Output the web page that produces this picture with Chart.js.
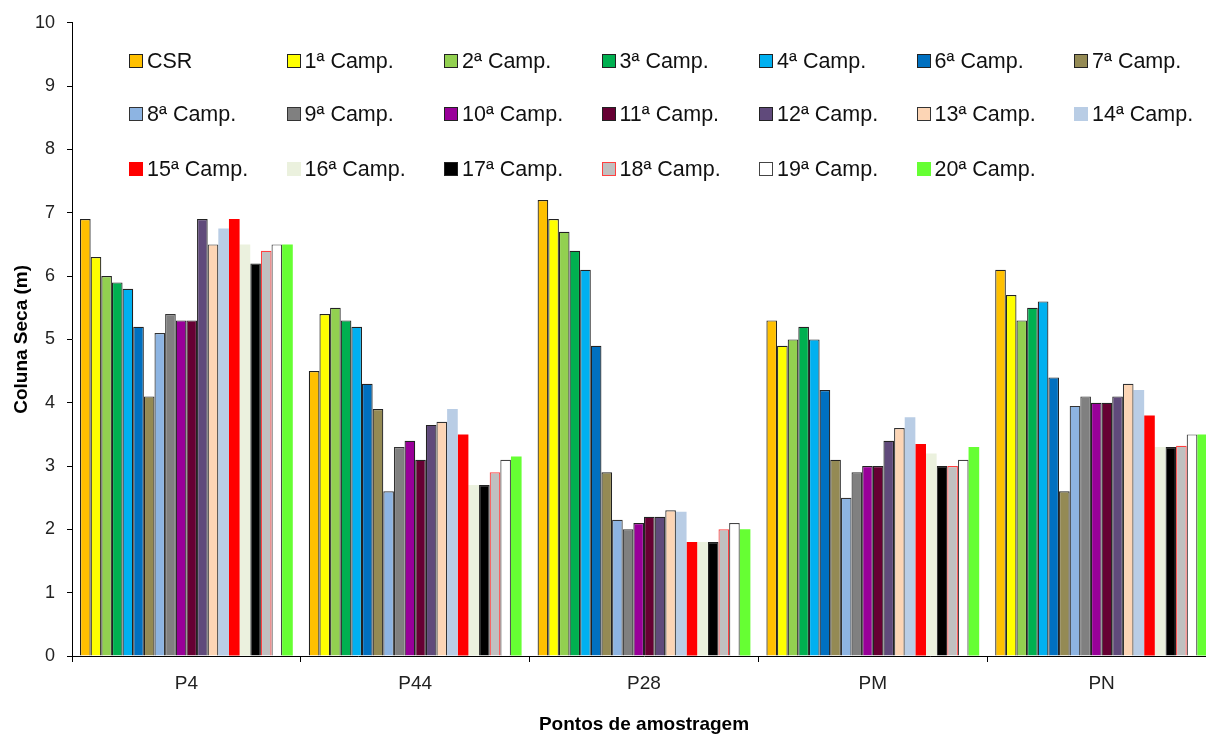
<!DOCTYPE html>
<html>
<head>
<meta charset="utf-8">
<script src="https://cdn.jsdelivr.net/npm/chart.js@4.4.1/dist/chart.umd.min.js"></script>
<style>
    html, body { margin: 0; padding: 0; background: #fff; overflow: hidden; }
    #wrap { position: relative; width: 1226px; height: 736px; }
    #legend { position: absolute; left: 0; top: 0; width: 1226px; height: 200px; pointer-events: none; }
    .item { position: absolute; display: flex; align-items: center; height: 26px; font: 21.5px "Liberation Sans", Arial, sans-serif; color: #111; white-space: nowrap; }
    .box { width: 12px; height: 12px; margin-right: 4px; box-sizing: content-box; }
</style>
</head>
<body>
<div id="wrap">
    <canvas id="chart"></canvas>
    <div id="legend"></div>
</div>
<script>
const pontos = ['P4', 'P44', 'P28', 'PM', 'PN'];
const campanhas = ['CSR', '1ª Camp.', '2ª Camp.', '3ª Camp.', '4ª Camp.', '6ª Camp.', '7ª Camp.',
    '8ª Camp.', '9ª Camp.', '10ª Camp.', '11ª Camp.', '12ª Camp.', '13ª Camp.', '14ª Camp.',
    '15ª Camp.', '16ª Camp.', '17ª Camp.', '18ª Camp.', '19ª Camp.', '20ª Camp.'];
const yTicks = [0, 1, 2, 3, 4, 5, 6, 7, 8, 9, 10];

// coluna seca (m) em cada ponto: P4, P44, P28, PM, PN
const csr = [6.9, 4.5, 7.2, 5.3, 6.1];
const camp1 = [6.3, 5.4, 6.9, 4.9, 5.7];
const camp2 = [6.0, 5.5, 6.7, 5.0, 5.3];
const camp3 = [5.9, 5.3, 6.4, 5.2, 5.5];
const camp4 = [5.8, 5.2, 6.1, 5.0, 5.6];
const camp6 = [5.2, 4.3, 4.9, 4.2, 4.4];
const camp7 = [4.1, 3.9, 2.9, 3.1, 2.6];
const camp8 = [5.1, 2.6, 2.15, 2.5, 3.95];
const camp9 = [5.4, 3.3, 2.0, 2.9, 4.1];
const camp10 = [5.3, 3.4, 2.1, 3.0, 4.0];
const camp11 = [5.3, 3.1, 2.2, 3.0, 4.0];
const camp12 = [6.9, 3.65, 2.2, 3.4, 4.1];
const camp13 = [6.5, 3.7, 2.3, 3.6, 4.3];
const camp14 = [6.75, 3.9, 2.28, 3.77, 4.2];
const camp15 = [6.9, 3.5, 1.8, 3.35, 3.8];
const camp16 = [6.5, 2.7, 1.8, 3.2, 3.3];
const camp17 = [6.2, 2.7, 1.8, 3.0, 3.3];
const camp18 = [6.4, 2.9, 2.0, 3.0, 3.32];
const camp19 = [6.5, 3.1, 2.1, 3.1, 3.5];
const camp20 = [6.5, 3.15, 2.0, 3.3, 3.5];

const series = [csr, camp1, camp2, camp3, camp4, camp6, camp7, camp8, camp9, camp10,
    camp11, camp12, camp13, camp14, camp15, camp16, camp17, camp18, camp19, camp20];

const fills = ['#FFC000', '#FFFF00', '#92D050', '#00B050', '#00B0F0', '#0070C0', '#948A54',
    '#8DB4E2', '#808080', '#990099', '#660033', '#604A7B', '#FCD5B5', '#B9CDE5',
    '#FF0000', '#EBF1DE', '#000000', '#C0C0C0', '#FFFFFF', '#66FF33'];
const borders = ['#222', '#222', '#222', '#222', '#222', '#222', '#222',
    '#333', '#333', '#222', '#222', '#222', '#333', null,
    null, null, '#222', '#FF4040', '#444', null];

const FONT = '"Liberation Sans", Arial, sans-serif';

const datasets = campanhas.map((name, i) => ({
    label: name,
    data: series[i],
    backgroundColor: fills[i],
    borderColor: borders[i] || fills[i],
    borderWidth: borders[i] ? 1.2 : 0,
    categoryPercentage: 0.93,
    barPercentage: 1.0
}));

const chart = new Chart(document.getElementById('chart'), {
    type: 'bar',
    data: { labels: pontos, datasets: datasets },
    options: {
        responsive: true,
        maintainAspectRatio: false,
        animation: false,
        layout: { padding: { top: 22, right: 10, bottom: 0, left: 0 } },
        plugins: {
            legend: { display: false },
            tooltip: { enabled: false }
        },
        scales: {
            x: {
                offset: true,
                grid: { display: true, drawOnChartArea: false, offset: true, color: '#000', tickLength: 6, lineWidth: 1 },
                border: { display: true, color: '#000', width: 1 },
                ticks: { color: '#222', padding: 10, font: { family: FONT, size: 19 } },
                title: {
                    display: true,
                    text: 'Pontos de amostragem',
                    color: '#000',
                    padding: { top: 3, bottom: 0 },
                    font: { family: FONT, size: 19, weight: 'bold' }
                },
                afterFit: (scale) => { scale.height = 80; }
            },
            y: {
                min: 0,
                max: 10,
                afterBuildTicks: (scale) => { scale.ticks = yTicks.map(v => ({ value: v })); },
                grid: { display: true, drawOnChartArea: false, color: '#000', tickLength: 5 },
                border: { display: true, color: '#000', width: 1 },
                ticks: { color: '#222', padding: 12, font: { family: FONT, size: 18 } },
                title: {
                    display: true,
                    text: 'Coluna Seca (m)',
                    color: '#000',
                    padding: { top: 10, bottom: 0 },
                    font: { family: FONT, size: 19, weight: 'bold' }
                },
                afterFit: (scale) => { scale.width = 72; }
            }
        }
    }
});

// legenda em grade de 7 colunas dentro da área do gráfico
const legend = document.getElementById('legend');
const rowCenters = [61, 114, 169];
chart.data.datasets.forEach((ds, i) => {
    const col = i % 7;
    const row = Math.floor(i / 7);
    const item = document.createElement('div');
    item.className = 'item';
    item.style.left = (129 + col * 157.5) + 'px';
    item.style.top = (rowCenters[row] - 13) + 'px';
    const box = document.createElement('span');
    box.className = 'box';
    box.style.background = ds.backgroundColor;
    box.style.border = ds.borderWidth ? '1px solid ' + ds.borderColor : '1px solid ' + ds.backgroundColor;
    const txt = document.createElement('span');
    txt.textContent = ds.label;
    item.appendChild(box);
    item.appendChild(txt);
    legend.appendChild(item);
});
</script>
</body>
</html>
